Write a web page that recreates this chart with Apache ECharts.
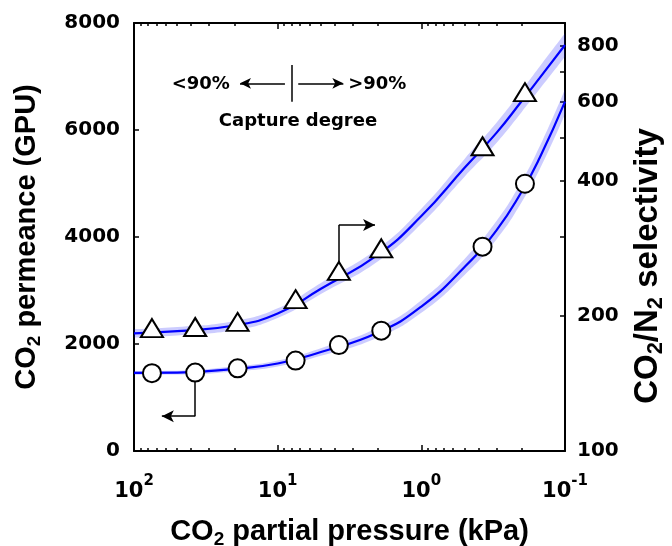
<!DOCTYPE html>
<html>
<head>
<meta charset="utf-8">
<script src="https://cdn.jsdelivr.net/npm/echarts@6/dist/echarts.min.js"></script>
<style>
  html, body { margin: 0; padding: 0; background: #fff; }
  #chart { width: 672px; height: 546px; }
</style>
</head>
<body>
<div id="chart"></div>
<script>
// fitted curves, sampled along the reversed log x axis (kPa)
const curvePressure = [100, 50, 20, 10, 5, 2, 1, 0.5, 0.3, 0.2, 0.15, 0.1];
const permCurve = [1460, 1465, 1535, 1635, 1850, 2215, 2700, 3440, 4125, 4850, 5480, 6530];
const permBandLow = [1423, 1428, 1488, 1579, 1779, 2122, 2582, 3290, 3953, 4654, 5265, 6296];
const permBandHigh = [1497, 1502, 1582, 1691, 1921, 2308, 2818, 3590, 4297, 5046, 5695, 6764];
const selCurve = [183, 185, 190.5, 202.5, 230, 274, 334, 428, 512, 603, 679, 804];
const selBandLow = [179, 181, 186, 198, 224, 265, 321, 409, 486, 570, 641, 757];
const selBandHigh = [187, 189, 195, 208, 237, 283, 347, 448, 539, 637, 720, 854];

// measured points
const pointPressure = [75, 37.5, 19, 7.5, 3.75, 1.9, 0.375, 0.19];
const permPoints = [1455, 1465, 1545, 1690, 1980, 2250, 3820, 4995];
const selPoints = [188, 189, 194, 218, 252, 283, 478, 631];

// axis ticks
const xMajorTicks = [100, 10, 1, 0.1];
const xMinorTicks = [90, 80, 70, 60, 50, 40, 30, 20, 9, 8, 7, 6, 5, 4, 3, 2, 0.9, 0.8, 0.7, 0.6, 0.5, 0.4, 0.3, 0.2];
const selLabelTicks = [100, 200, 400, 600, 800];
const selTicks = [100, 200, 300, 400, 500, 600, 700, 800, 900];

const FONT = "DejaVu Sans";
const TITLE_FONT = "Liberation Sans";
const black = "#000";
const lineBlue = "#0000ff";
const bandBlue = "rgba(0, 0, 255, 0.2)";

const pairs = (xs, ys) => xs.map((x, i) => [x, ys[i]]);
// value first so the stack runs on the y dimension (encoded back below)
const stackPairs = (xs, ys) => xs.map((x, i) => [ys[i], x]);
const stackDiff = (xs, lo, hi) => xs.map((x, i) => [hi[i] - lo[i], x]);
const stackEncode = { x: 1, y: 0 };

const titleRich = (size) => ({
  a: { fontFamily: TITLE_FONT, fontWeight: "bold", fontSize: size, color: black, lineHeight: size + 5, verticalAlign: "middle" },
  s: { fontFamily: TITLE_FONT, fontWeight: "bold", fontSize: Math.round(size * 0.66), color: black, verticalAlign: "bottom" },
});

const xLabelRich = {
  b: { fontFamily: FONT, fontWeight: "bold", fontSize: 21, color: black, padding: [7, 0, 0, 0], verticalAlign: "bottom" },
  s: { fontFamily: FONT, fontWeight: "bold", fontSize: 15, color: black, verticalAlign: "top" },
};

const xAxisBase = (gridIndex, position) => ({
  type: "log",
  logBase: 10,
  min: 0.1,
  max: 100,
  inverse: true,
  gridIndex,
  position,
  splitLine: { show: false },
  axisLine: { show: true, lineStyle: { color: black, width: 2 } },
});

const bandSeries = (yAxisIndex, stack, lo, hi) => [
  {
    type: "line", xAxisIndex: 0, yAxisIndex, stack, smooth: true, symbol: "none", encode: stackEncode,
    lineStyle: { opacity: 0 }, data: stackPairs(curvePressure, lo), silent: true, z: 1,
  },
  {
    type: "line", xAxisIndex: 0, yAxisIndex, stack, smooth: true, symbol: "none", encode: stackEncode,
    lineStyle: { opacity: 0 }, areaStyle: { color: bandBlue, opacity: 1 },
    data: stackDiff(curvePressure, lo, hi), silent: true, z: 1,
  },
];

const chart = echarts.init(document.getElementById("chart"));

const gridBox = { left: 134, right: 107, top: 23, bottom: 95, outerBoundsMode: "none", containLabel: false };

const option = {
  animation: false,
  backgroundColor: "#fff",
  grid: [{ ...gridBox }, { ...gridBox }],
  xAxis: [
    {
      ...xAxisBase(0, "bottom"),
      axisTick: { inside: true, length: 6, lineStyle: { color: black, width: 1.5 }, customValues: xMajorTicks },
      axisLabel: {
        customValues: xMajorTicks,
        margin: 23,
        formatter: (v) => "{b|10}{s|" + Math.round(Math.log10(v)) + "}",
        rich: xLabelRich,
      },
      name: "{a|CO}{s|2}{a| partial pressure (kPa)}",
      nameLocation: "middle",
      nameGap: 64,
      nameTextStyle: { rich: titleRich(29) },
    },
    {
      ...xAxisBase(0, "top"),
      axisTick: { inside: true, length: 6, lineStyle: { color: black, width: 1.5 }, customValues: xMajorTicks },
      axisLabel: { show: false },
    },
    {
      ...xAxisBase(1, "bottom"),
      axisLine: { show: false },
      axisTick: { inside: true, length: 3, lineStyle: { color: black, width: 1.5 }, customValues: xMinorTicks },
      axisLabel: { show: false },
    },
    {
      ...xAxisBase(1, "top"),
      axisLine: { show: false },
      axisTick: { inside: true, length: 3, lineStyle: { color: black, width: 1.5 }, customValues: xMinorTicks },
      axisLabel: { show: false },
    },
  ],
  yAxis: [
    {
      type: "value",
      gridIndex: 0,
      position: "left",
      min: 0,
      max: 8000,
      interval: 2000,
      splitLine: { show: false },
      axisLine: { show: true, lineStyle: { color: black, width: 2 } },
      axisTick: { show: true, inside: true, length: 5, lineStyle: { color: black, width: 1.5 } },
      axisLabel: {
        margin: 14, fontFamily: FONT, fontWeight: "bold", fontSize: 20, color: black,
        formatter: (v) => String(v),
      },
      name: "{a|CO}{s|2}{a| permeance (GPU)}",
      nameLocation: "middle",
      nameGap: 90,
      nameTextStyle: { rich: titleRich(29) },
    },
    {
      type: "log",
      logBase: 10,
      gridIndex: 0,
      position: "right",
      min: 100,
      max: 900,
      splitLine: { show: false },
      axisLine: { show: true, lineStyle: { color: black, width: 2 } },
      axisTick: { show: true, inside: true, length: 5, lineStyle: { color: black, width: 1.5 }, customValues: selTicks },
      axisLabel: {
        customValues: selLabelTicks, margin: 12, fontFamily: FONT, fontWeight: "bold", fontSize: 20, color: black,
        formatter: (v) => String(Math.round(v)),
      },
      name: "{a|CO}{s|2}{a|/N}{s|2}{a| selectivity}",
      nameLocation: "middle",
      nameGap: 64,
      nameTextStyle: { rich: titleRich(33), padding: [0, 58, 0, 0] },
    },
    {
      type: "value",
      gridIndex: 1,
      min: 0,
      max: 8000,
      show: false,
    },
  ],
  series: [
    ...bandSeries(0, "permBand", permBandLow, permBandHigh),
    ...bandSeries(1, "selBand", selBandLow, selBandHigh),
    // fitted lines
    {
      name: "Permeance fit", type: "line", xAxisIndex: 0, yAxisIndex: 0, smooth: true, symbol: "none",
      lineStyle: { color: lineBlue, width: 2.2 }, data: pairs(curvePressure, permCurve), z: 2,
    },
    {
      name: "Selectivity fit", type: "line", xAxisIndex: 0, yAxisIndex: 1, smooth: true, symbol: "none",
      lineStyle: { color: lineBlue, width: 2.2 }, data: pairs(curvePressure, selCurve), z: 2,
    },
    // measured points + annotations
    {
      name: "Permeance", type: "scatter", xAxisIndex: 0, yAxisIndex: 0, symbol: "circle", symbolSize: 18,
      itemStyle: { color: "#fff", borderColor: black, borderWidth: 2, opacity: 1 },
      data: pairs(pointPressure, permPoints), z: 4,
      markLine: {
        silent: true, symbol: "none", label: { show: false },
        lineStyle: { color: black, width: 1.5, type: "solid" },
        data: [
          [{ coord: [37.5, 1310] }, { coord: [37.5, 650] }],
          [{ coord: [37.5, 650], symbol: "none" }, { coord: [64, 650], symbol: "arrow", symbolSize: [9, 12] }],
          [{ coord: [8, 7215] }, { coord: [8, 6529] }],
          [{ coord: [8.9, 6872], symbol: "none" }, { coord: [18.3, 6872], symbol: "arrow", symbolSize: [8, 11] }],
          [{ coord: [7.19, 6872], symbol: "none" }, { coord: [3.49, 6872], symbol: "arrow", symbolSize: [8, 11] }],
        ],
      },
    },
    {
      name: "Selectivity", type: "scatter", xAxisIndex: 0, yAxisIndex: 1, symbol: "triangle", symbolSize: [22, 18],
      itemStyle: { color: "#fff", borderColor: black, borderWidth: 2, opacity: 1 },
      data: pairs(pointPressure, selPoints), z: 4,
      markLine: {
        silent: true, symbol: "none", label: { show: false },
        lineStyle: { color: black, width: 1.5, type: "solid" },
        data: [
          [{ coord: [3.75, 263] }, { coord: [3.75, 319] }],
          [{ coord: [3.75, 319], symbol: "none" }, { coord: [2.1, 319], symbol: "arrow", symbolSize: [9, 12] }],
        ],
      },
    },
  ],
};

chart.setOption(option);

// capture degree annotation text, anchored in data space
const toPx = (x, y) => chart.convertToPixel({ xAxisIndex: 0, yAxisIndex: 0 }, [x, y]);
const annoStyle = { fontFamily: FONT, fontWeight: "bold", fontSize: 18, fill: black };
const pLeft = toPx(21.5, 6860);
const pRight = toPx(3.23, 6860);
const pCap = toPx(7.22, 6155);
chart.setOption({
  graphic: [
    { type: "text", x: pLeft[0], y: pLeft[1], style: { ...annoStyle, text: "<90%", align: "right", verticalAlign: "middle" }, z: 10 },
    { type: "text", x: pRight[0], y: pRight[1], style: { ...annoStyle, text: ">90%", align: "left", verticalAlign: "middle" }, z: 10 },
    { type: "text", x: pCap[0], y: pCap[1], style: { ...annoStyle, text: "Capture degree", align: "center", verticalAlign: "middle" }, z: 10 },
  ],
});
</script>
</body>
</html>
